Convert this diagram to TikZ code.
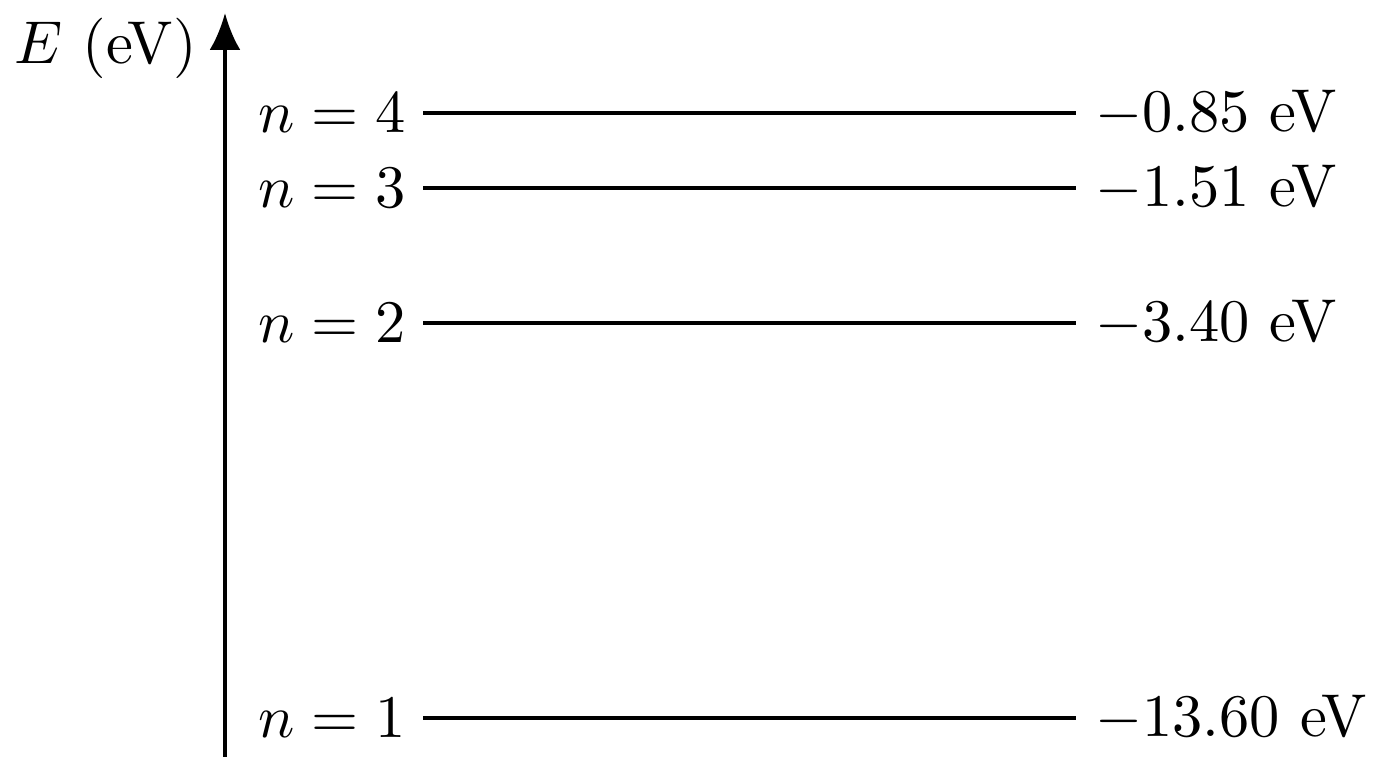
\documentclass[tikz,border=0pt]{standalone}
\usetikzlibrary{arrows.meta,positioning}

\def\xa{4.23}
\def\xb{10.76}
\def\gapl{1.6mm}
\def\gapr{1.8mm}

\begin{document}
\begin{tikzpicture}[
    every node/.style={scale=1.72, inner sep=0pt},
    level/.style={line width=1.1pt},
    axis/.style={line width=1.1pt, -{Latex[length=3.7mm,width=3.1mm]}}
  ]
    \useasboundingbox (0,0) rectangle (13.76,7.68);

    % energy axis
    \coordinate (base) at (2.25,0.11);
    \coordinate (top) at (2.25,7.55);
    \draw[axis] (base) -- (top);
    \node[anchor=east] (elabel) at (1.98,7.195) {$E$ (eV)};

    % levels
    \coordinate (l4a) at (\xa,6.55);
    \coordinate (l4b) at (\xb,6.55);
    \coordinate (l3a) at (\xa,5.80);
    \coordinate (l3b) at (\xb,5.80);
    \coordinate (l2a) at (\xa,4.45);
    \coordinate (l2b) at (\xb,4.45);
    \coordinate (l1a) at (\xa,0.50);
    \coordinate (l1b) at (\xb,0.50);

    \draw[level] (l4a) -- (l4b);
    \draw[level] (l3a) -- (l3b);
    \draw[level] (l2a) -- (l2b);
    \draw[level] (l1a) -- (l1b);

    \node[left=\gapl of l4a] (n4) {$n=4$};
    \node[left=\gapl of l3a] (n3) {$n=3$};
    \node[left=\gapl of l2a] (n2) {$n=2$};
    \node[left=\gapl of l1a] (n1) {$n=1$};

    \node[right=\gapr of l4b] (e4) {$-0.85$ eV};
    \node[right=\gapr of l3b] (e3) {$-1.51$ eV};
    \node[right=\gapr of l2b] (e2) {$-3.40$ eV};
    \node[right=\gapr of l1b] (e1) {$-13.60$ eV};
  \end{tikzpicture}
\end{document}
